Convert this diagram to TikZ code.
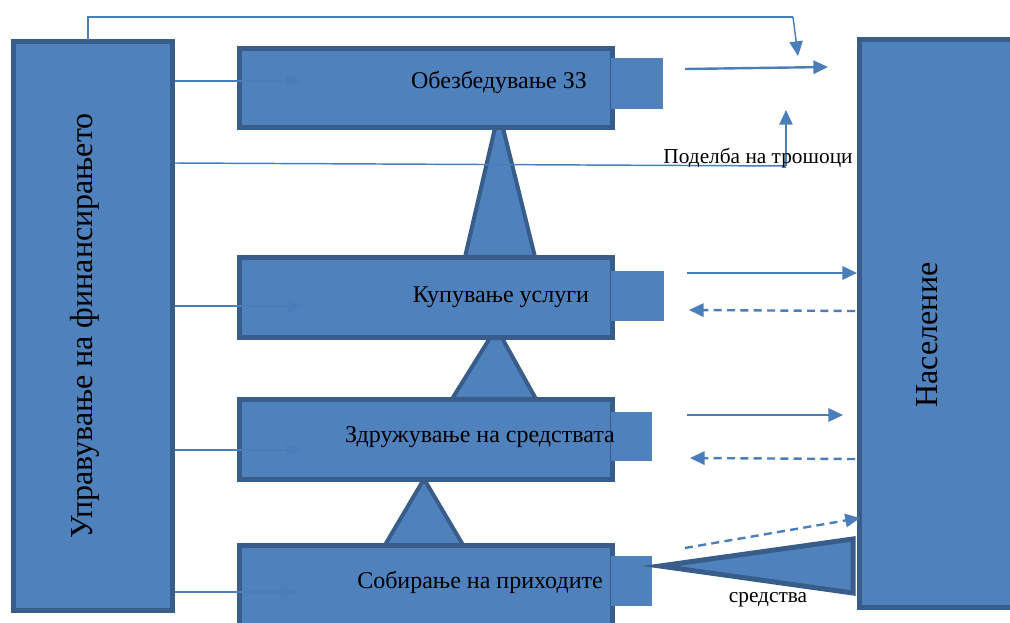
\documentclass[tikz,border=0pt]{standalone}
\usepackage{fontspec}
\setmainfont{Liberation Serif}
\usepackage{tikz}
\usetikzlibrary{arrows.meta}

\definecolor{boxfill}{RGB}{79,129,189}
\definecolor{boxline}{RGB}{56,93,138}
\definecolor{arrline}{RGB}{74,126,187}

\tikzset{
  blk/.style={draw=boxline, fill=boxfill, line width=3.75pt, inner sep=0pt},
  tabblk/.style={draw=none, fill=boxfill, inner sep=0pt},
  tri/.style={draw=boxline, fill=boxfill, line width=3pt, line join=miter},
  lnk/.style={draw=arrline, line width=1.1pt},
  lnkthick/.style={draw=arrline, line width=1.8pt, -{Triangle[length=11pt,width=10pt]}},
  lnkdash/.style={lnkthick, dash pattern=on 6pt off 4pt},
  lbl/.style={font=\fontsize{18}{20}\selectfont, inner sep=0pt},
  biglbl/.style={font=\fontsize{24}{26}\selectfont, inner sep=0pt, rotate=90},
  smalllbl/.style={font=\fontsize{16}{18}\selectfont, inner sep=0pt},
}

\begin{document}
\begin{tikzpicture}[x=0.75pt,y=0.75pt,yscale=-1]
\useasboundingbox (0,0) rectangle (1010,623);

%Shape: Triangles between the levels
\draw [tri] (495,128) -- (503,128) -- (535,257) -- (465,257) -- cycle ;
\draw [tri] (490,338) -- (502,338) -- (536,399) -- (452,399) -- cycle ;
\draw [tri] (424,479) -- (463,545) -- (385,545) -- cycle ;

%Shape: Rectangle (left)
\node [blk, minimum width=119.25pt, minimum height=426.75pt] (fin) at (93,326) {};
%Shape: Rectangle (right)
\node [blk, minimum width=150pt, minimum height=426pt] (nas) at (959.5,323.5) {};

%Shape: Rectangles (levels)
\node [blk, minimum width=279.75pt, minimum height=59.25pt] (ozz) at (426,88) {};
\node [blk, minimum width=279.75pt, minimum height=60pt] (kup) at (426,297.5) {};
\node [blk, minimum width=279.75pt, minimum height=60pt] (zdr) at (426,439.5) {};
\node [blk, minimum width=279.75pt, minimum height=69pt] (sob) at (426,591.5) {};

%Shape: Tabs
\node [tabblk, minimum width=39pt, minimum height=38.25pt] (tab1) at (637,83.5) {};
\node [tabblk, minimum width=40.1pt, minimum height=37.5pt] (tab2) at (637.75,296) {};
\node [tabblk, minimum width=30.75pt, minimum height=36.75pt] (tab3) at (631.5,436.5) {};
\node [tabblk, minimum width=30.75pt, minimum height=37.5pt] (tab4) at (631.5,581) {};

%Coordinates for connector ends
\coordinate (top0) at (88,40);
\coordinate (top1) at (793,17);
\coordinate (top2) at (798,56);
\coordinate (mid0) at (175,163);
\coordinate (mid1) at (786,166);
\coordinate (mid2) at (786,110);
\coordinate (f1) at (175,81);   \coordinate (e1) at (303,81);
\coordinate (f2) at (175,306);  \coordinate (e2) at (305,306);
\coordinate (f3) at (175,450);  \coordinate (e3) at (304,450);
\coordinate (f4) at (175,592);  \coordinate (e4) at (298,592);
\coordinate (o1) at (685,69);   \coordinate (n1) at (828,67);
\coordinate (o2) at (687,273);  \coordinate (n2) at (857,273);
\coordinate (o3) at (687,415);  \coordinate (n3) at (843,415);
\coordinate (r2) at (855,311);  \coordinate (b2) at (689,310);
\coordinate (r3) at (855,459);  \coordinate (b3) at (690,458);
\coordinate (o4) at (685,548);  \coordinate (n4) at (860,518);

%Straight Lines (top)
\draw [lnk] (top0) |- (top1) ;
\draw [lnk, -{Triangle[length=11pt,width=10pt]}] (top1) -- (top2) ;
%Straight Lines (cost sharing)
\draw [lnk] (mid0) -- (mid1) ;
\draw [lnk, -{Triangle[length=11pt,width=10pt]}] (mid1) -- (mid2) ;

%Straight Lines (into levels)
\foreach \i in {1,2,3,4}
  \draw [lnk, line width=1.5pt, -{Triangle[length=13pt,width=9pt]}] (f\i) -- (e\i) ;

%Straight Lines (to population)
\draw [lnkthick] (o1) -- (n1) ;
\draw [lnkthick] (o2) -- (n2) ;
\draw [lnkthick] (o3) -- (n3) ;
\draw [lnkdash] (r2) -- (b2) ;
\draw [lnkdash] (r3) -- (b3) ;
\draw [lnkdash] (o4) -- (n4) ;

%Shape: Triangle (funds)
\draw [tri, line width=3.75pt] (660,566) -- (853,539) -- (853,593) -- cycle ;

% Text Node
\node [biglbl] (tfin) at (85,326) {Управување на финансирањето};
% Text Node
\node [biglbl] (tnas) at (927,335) {Население};
% Text Node
\node [lbl] (tozz) at (499,83) {Обезбедување ЗЗ};
% Text Node
\node [lbl] (tkup) at (501,297) {Купување услуги};
% Text Node
\node [lbl] (tzdr) at (480,437) {Здружување на средствата};
% Text Node
\node [lbl] (tsob) at (480,582) {Собирање на приходите};
% Text Node
\node [smalllbl] (tpod) at (758,158) {Поделба на трошоци};
% Text Node
\node [smalllbl] (tsre) at (768,600) {средства};

\end{tikzpicture}
\end{document}
